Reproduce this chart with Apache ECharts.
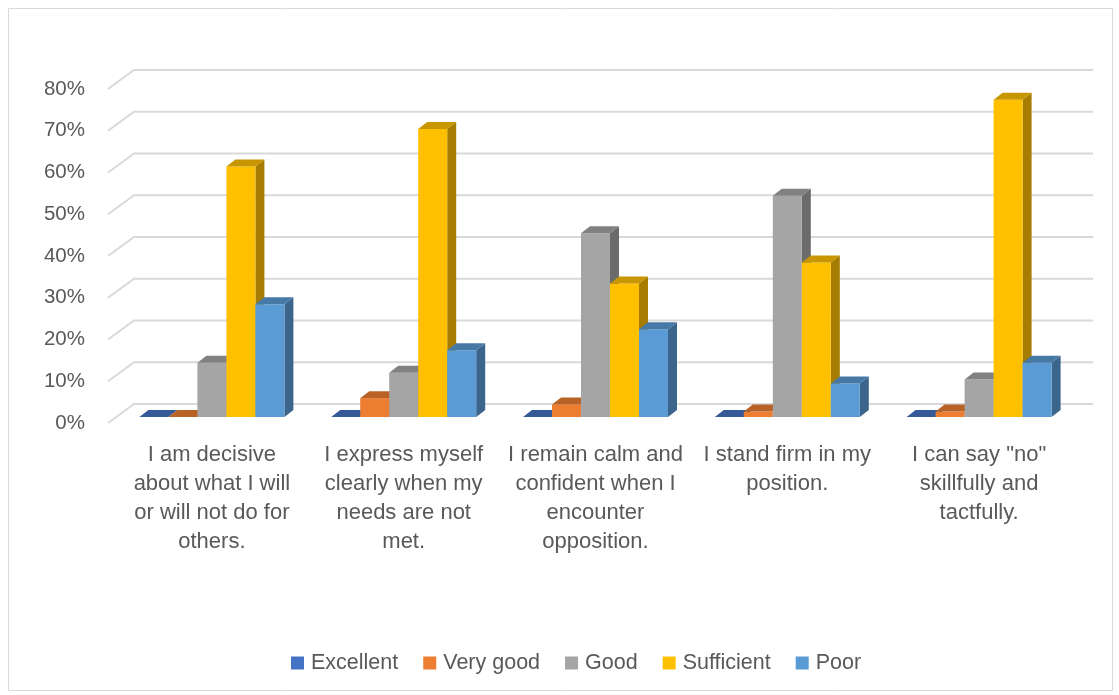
<!DOCTYPE html>
<html>
<head>
<meta charset="utf-8">
<script src="https://cdn.jsdelivr.net/npm/echarts@6/dist/echarts.min.js"></script>
<style>
  html, body { margin: 0; padding: 0; background: #fff; }
  #chart { width: 1119px; height: 695px; }
</style>
</head>
<body>
<div id="chart"></div>
<script>
// data (percent)
var categories = [
  "I am decisive about what I will or will not do for others.",
  "I express myself clearly when my needs are not met.",
  "I remain calm and confident when I encounter opposition.",
  "I stand firm in my position.",
  "I can say \"no\" skillfully and tactfully."
];
var tickLabels = [
  "I am decisive\nabout what I will\nor will not do for\nothers.",
  "I express myself\nclearly when my\nneeds are not\nmet.",
  "I remain calm and\nconfident when I\nencounter\nopposition.",
  "I stand firm in my\nposition.",
  "I can say \"no\"\nskillfully and\ntactfully."
];
var seriesNames = ["Excellent", "Very good", "Good", "Sufficient", "Poor"];
var excellent = [0, 0, 0, 0, 0];
var veryGood = [0, 4.5, 3, 1.3, 1.3];
var good = [13, 10.6, 44, 53, 9];
var sufficient = [60, 69, 32, 37, 76];
var poor = [27, 16, 21, 8, 13];
var yTicks = [0, 10, 20, 30, 40, 50, 60, 70, 80];

var colors = ["#4472C4", "#ED7D31", "#A5A5A5", "#FFC000", "#5B9BD5"];
var seriesData = [excellent, veryGood, good, sufficient, poor];

// depth of a bar and of the back wall, in pixels
var BAR_DX = 9, BAR_DY = -7;
var WALL_DX = 18, WALL_DY = -13;
var FRONT_DX = -8, FRONT_DY = 6;

function shade(hex, k) {
  var n = parseInt(hex.slice(1), 16);
  var r = Math.round(((n >> 16) & 255) * k);
  var g = Math.round(((n >> 8) & 255) * k);
  var b = Math.round((n & 255) * k);
  return "rgb(" + r + "," + g + "," + b + ")";
}

var myChart = echarts.init(document.getElementById("chart"));

function barRenderer(si) {
  var col = colors[si];
  return function (params, api) {
    var ci = api.value(0);
    var top = api.coord([ci, api.value(1)]);
    var base = api.coord([ci, 0]);
    var band = api.size([1, 0])[0];
    var w = band * 0.1512;
    var x0 = top[0] + (si - 2.5) * w;
    var x1 = x0 + w;
    var yt = top[1], yb = base[1];
    return {
      type: "group",
      children: [
        {
          type: "polygon",
          shape: { points: [[x1, yb], [x1 + BAR_DX, yb + BAR_DY], [x1 + BAR_DX, yt + BAR_DY], [x1, yt]] },
          style: { fill: shade(col, 0.65) }
        },
        {
          type: "rect",
          shape: { x: x0, y: yt, width: w, height: yb - yt },
          style: { fill: col }
        },
        {
          type: "polygon",
          shape: { points: [[x0, yt], [x1, yt], [x1 + BAR_DX, yt + BAR_DY], [x0 + BAR_DX, yt + BAR_DY]] },
          style: { fill: shade(col, 0.78) }
        }
      ]
    };
  };
}

var series = [
  {
    type: "custom",
    name: "grid",
    silent: true,
    z: 1,
    data: yTicks.map(function (v) { return [0, v]; }),
    encode: { x: 0, y: 1 },
    renderItem: function (params, api) {
      var cs = params.coordSys;
      var y = api.coord([0, api.value(1)])[1];
      return {
        type: "polyline",
        shape: {
          points: [
            [cs.x + FRONT_DX, y + FRONT_DY],
            [cs.x + WALL_DX, y + WALL_DY],
            [cs.x + cs.width + WALL_DX, y + WALL_DY]
          ]
        },
        style: { stroke: "#d9d9d9", lineWidth: 2, fill: null }
      };
    }
  }
];

seriesNames.forEach(function (name, si) {
  series.push({
    type: "custom",
    name: name,
    z: 2,
    itemStyle: { color: colors[si] },
    data: seriesData[si].map(function (v, i) { return [i, v]; }),
    encode: { x: 0, y: 1 },
    renderItem: barRenderer(si)
  });
});

var option = {
  backgroundColor: "#fff",
  animation: false,
  textStyle: { fontFamily: "Liberation Sans" },
  graphic: [
    {
      type: "rect",
      shape: { x: 8.5, y: 8.5, width: 1104, height: 682 },
      style: { fill: null, stroke: "#d9d9d9", lineWidth: 1 },
      silent: true
    }
  ],
  grid: { left: 116, right: 44, top: 83, bottom: 278 },
  legend: {
    data: seriesNames,
    top: 647,
    left: 286,
    icon: "rect",
    itemWidth: 13,
    itemHeight: 13,
    itemGap: 25,
    textStyle: { fontSize: 21.5, color: "#595959", fontFamily: "Liberation Sans", padding: [0, 0, 0, 2] }
  },
  xAxis: {
    type: "category",
    data: categories,
    axisLine: { show: false },
    axisTick: { show: false },
    splitLine: { show: false },
    axisLabel: {
      interval: 0,
      margin: 23,
      fontSize: 22,
      lineHeight: 29,
      color: "#595959",
      formatter: function (value, idx) { return tickLabels[idx]; }
    }
  },
  yAxis: {
    type: "value",
    min: 0,
    max: 80,
    interval: 10,
    axisLine: { show: false },
    axisTick: { show: false },
    splitLine: { show: false },
    axisLabel: {
      margin: 31,
      fontSize: 20.5,
      color: "#595959",
      verticalAlign: "top",
      lineHeight: 12,
      formatter: "{value}%"
    }
  },
  series: series
};

myChart.setOption(option);
</script>
</body>
</html>
